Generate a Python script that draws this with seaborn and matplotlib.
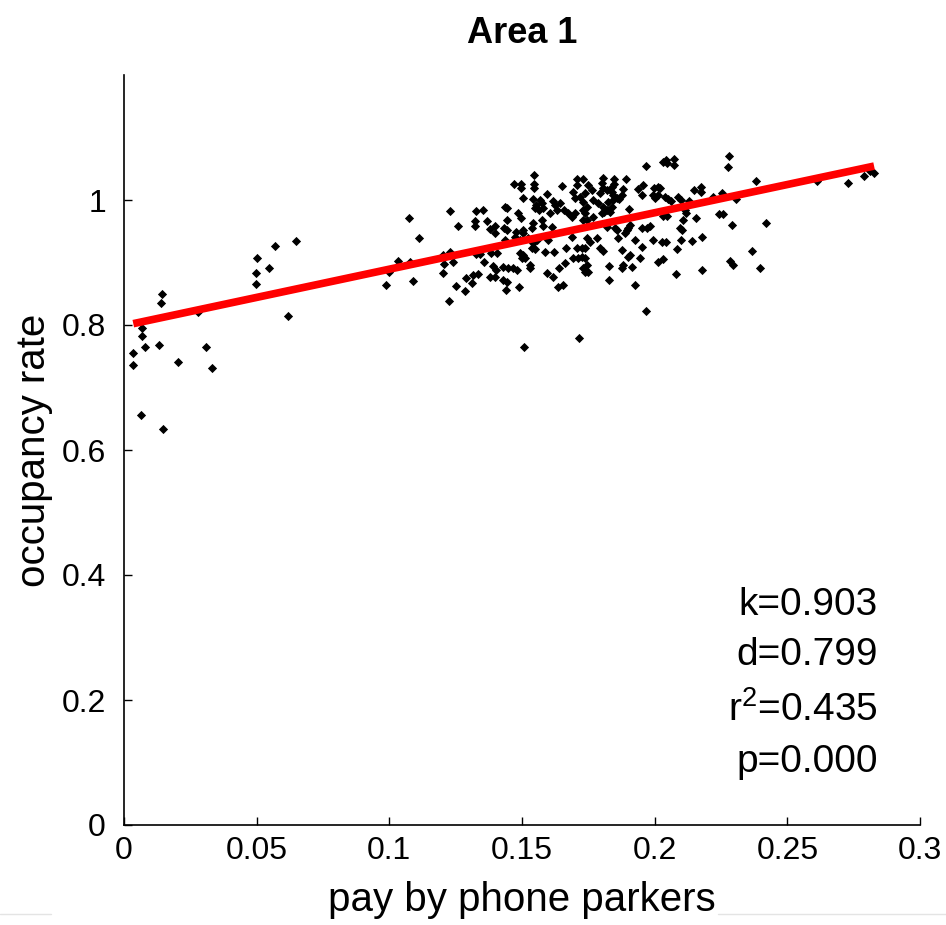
import matplotlib
matplotlib.use("Agg")
import matplotlib.pyplot as plt
from matplotlib.lines import Line2D
import seaborn as sns
import pandas as pd

# ---- data ----
pay_by_phone = [
    0.0035, 0.0035, 0.0068, 0.0068, 0.0078, 0.0063, 0.0132, 0.0138, 0.0143, 0.0148,
    0.0202, 0.0278, 0.0310, 0.0332, 0.0498, 0.0499, 0.0502, 0.0547, 0.0568, 0.0617,
    0.0649,
    0.0986, 0.0999, 0.1032, 0.1074, 0.1078,
    0.1112, 0.1089, 0.1230, 0.1258, 0.1229, 0.1204, 0.1207, 0.1201, 0.1241, 0.1250,
    0.1225, 0.1284, 0.1289, 0.1310, 0.1315, 0.1334, 0.1327, 0.1353, 0.1324, 0.1322,
    0.1369, 0.1378, 0.1397, 0.1398, 0.1326, 0.1343, 0.1358, 0.1384, 0.1390, 0.1406,
    0.1403, 0.1378, 0.1397,
    0.1547, 0.1471, 0.1496, 0.1496, 0.1547, 0.1547, 0.1505, 0.1436, 0.1445, 0.1486,
    0.1495, 0.1445, 0.1433, 0.1442, 0.1477, 0.1505, 0.1543, 0.1568, 0.1553, 0.1549,
    0.1574, 0.1580, 0.1564, 0.1595, 0.1618, 0.1624, 0.1643, 0.1606, 0.1631, 0.1650,
    0.1706, 0.1706, 0.1693, 0.1700, 0.1658, 0.1675, 0.1687, 0.1700, 0.1543, 0.1537,
    0.1574, 0.1580, 0.1614, 0.1474, 0.1492, 0.1505, 0.1524, 0.1543, 0.1555, 0.1537,
    0.1492, 0.1505, 0.1511, 0.1499, 0.1436, 0.1599, 0.1587, 0.1621, 0.1665, 0.1706,
    0.1549, 0.1687, 0.1430, 0.1448, 0.1467, 0.1480, 0.1530, 0.1530, 0.1430, 0.1442,
    0.1440, 0.1490, 0.1593, 0.1618, 0.1637, 0.1656, 0.1640, 0.1662, 0.1691, 0.1712,
    0.1509, 0.1715,
    0.1967, 0.1731, 0.1806, 0.1800, 0.1848, 0.1848, 0.1892, 0.1750, 0.1763, 0.1737,
    0.1804, 0.1819, 0.1794, 0.1838, 0.1838, 0.1844, 0.1882, 0.1876, 0.1867, 0.1938,
    0.1951, 0.1957, 0.1997, 0.2014, 0.1719, 0.1731, 0.1744, 0.1731, 0.1769, 0.1788,
    0.1806, 0.1819, 0.1832, 0.1838, 0.1825, 0.1844, 0.1857, 0.1737, 0.1731, 0.1744,
    0.1769, 0.1800, 0.1809, 0.1904, 0.1995, 0.2001, 0.2014, 0.1819, 0.1851, 0.1857,
    0.1907, 0.1895, 0.1901, 0.1951, 0.1970, 0.1982, 0.1744, 0.1756, 0.1782, 0.1863,
    0.1888, 0.1926, 0.1725, 0.1737, 0.1794, 0.1804, 0.1876, 0.1951, 0.1907, 0.1901,
    0.1945, 0.1995, 0.2014, 0.1725, 0.1737, 0.1744, 0.1731, 0.1750, 0.1737, 0.1829,
    0.1882, 0.1876, 0.1913, 0.1828, 0.1926, 0.1967,
    0.2033, 0.2043, 0.2045, 0.2073, 0.2073, 0.2281, 0.2278, 0.2020, 0.2149, 0.2175,
    0.2175, 0.2039, 0.2051, 0.2060, 0.2089, 0.2098, 0.2131, 0.2253, 0.2221, 0.2307,
    0.2381, 0.2033, 0.2048, 0.2114, 0.2118, 0.2156, 0.2244, 0.2259, 0.2106, 0.2095,
    0.2102, 0.2290, 0.2177, 0.2140, 0.2098, 0.2085, 0.2027, 0.2042, 0.2366, 0.2033,
    0.2284, 0.2294, 0.2180, 0.2079, 0.2397,
    0.2420, 0.2613, 0.2730, 0.2790, 0.2812, 0.2827,
]
occupancy_rate = [
    0.756, 0.736, 0.795, 0.783, 0.765, 0.656, 0.768, 0.836, 0.850, 0.633,
    0.741, 0.821, 0.765, 0.731, 0.866, 0.884, 0.908, 0.892, 0.926, 0.814,
    0.935,
    0.864, 0.885, 0.902, 0.971, 0.901,
    0.939, 0.870, 0.982, 0.959, 0.917, 0.912, 0.898, 0.883, 0.901, 0.863,
    0.838, 0.854, 0.875, 0.868, 0.880, 0.882, 0.982, 0.984, 0.966, 0.958,
    0.966, 0.953, 0.958, 0.948, 0.913, 0.913, 0.901, 0.916, 0.895, 0.916,
    0.888, 0.877, 0.877,
    1.040, 1.025, 1.025, 1.019, 1.025, 1.019, 1.004, 0.989, 0.987, 0.980,
    0.972, 0.968, 0.956, 0.952, 0.949, 0.952, 1.001, 1.000, 0.992, 0.987,
    0.995, 0.987, 0.984, 1.010, 0.998, 0.992, 0.996, 0.980, 0.984, 1.022,
    1.034, 1.024, 1.013, 1.003, 0.984, 0.979, 0.973, 0.979, 0.963, 0.955,
    0.968, 0.958, 0.957, 0.941, 0.936, 0.947, 0.939, 0.931, 0.936, 0.923,
    0.915, 0.912, 0.907, 0.908, 0.936, 0.936, 0.917, 0.917, 0.923, 0.923,
    0.922, 0.941, 0.893, 0.891, 0.891, 0.888, 0.896, 0.891, 0.872, 0.869,
    0.856, 0.861, 0.884, 0.877, 0.861, 0.864, 0.891, 0.899, 0.908, 0.907,
    0.765, 0.779,
    1.054, 1.034, 1.036, 1.028, 1.034, 1.025, 1.034, 1.024, 1.016, 1.011,
    1.019, 1.016, 1.011, 1.021, 1.013, 1.008, 1.017, 1.008, 1.001, 1.017,
    1.008, 1.024, 1.019, 1.021, 1.005, 0.997, 0.989, 0.984, 1.000, 0.995,
    0.989, 0.984, 0.981, 0.989, 0.997, 1.000, 1.003, 0.979, 0.968, 0.968,
    0.973, 0.979, 0.981, 0.985, 1.008, 1.003, 1.008, 0.957, 0.956, 0.952,
    0.960, 0.952, 0.956, 0.955, 0.956, 0.958, 0.939, 0.933, 0.940, 0.940,
    0.947, 0.936, 0.923, 0.923, 0.924, 0.919, 0.920, 0.925, 0.912, 0.909,
    0.908, 0.936, 0.901, 0.909, 0.907, 0.896, 0.891, 0.885, 0.885, 0.894,
    0.896, 0.891, 0.893, 0.872, 0.864, 0.823,
    1.061, 1.064, 1.059, 1.065, 1.056, 1.070, 1.053, 1.019, 1.016, 1.021,
    1.013, 1.005, 1.001, 0.998, 1.005, 1.000, 0.998, 1.011, 1.005, 1.001,
    1.031, 0.974, 0.974, 0.984, 0.979, 0.972, 0.978, 0.978, 0.968, 0.956,
    0.952, 0.960, 0.941, 0.935, 0.936, 0.922, 0.933, 0.933, 0.919, 0.905,
    0.903, 0.896, 0.888, 0.882, 0.891,
    0.964, 1.031, 1.027, 1.038, 1.047, 1.043,
]

# regression results shown on the chart
fit_k = 0.903
fit_d = 0.799
stat_labels = ["k=0.903", "d=0.799", r"r$^{2}$=0.435", "p=0.000"]

x_ticks = [0, 0.05, 0.1, 0.15, 0.2, 0.25, 0.3]
x_tick_labels = ["0", "0.05", "0.1", "0.15", "0.2", "0.25", "0.3"]
y_ticks = [0, 0.2, 0.4, 0.6, 0.8, 1.0]
y_tick_labels = ["0", "0.2", "0.4", "0.6", "0.8", "1"]

title_text = "Area 1"
x_label = "pay by phone parkers"
y_label = "occupancy rate"

# ---- style ----
sns.set_style("white")
plt.rcParams["font.family"] = ["Liberation Sans", "DejaVu Sans"]
plt.rcParams["mathtext.fontset"] = "custom"
plt.rcParams["mathtext.rm"] = "Liberation Sans"
plt.rcParams["mathtext.it"] = "Liberation Sans:italic"
plt.rcParams["mathtext.bf"] = "Liberation Sans:bold"
for key in ["text.color", "axes.labelcolor", "xtick.color", "ytick.color", "axes.edgecolor"]:
    plt.rcParams[key] = "black"

fig = plt.figure(figsize=(9.46, 9.25), dpi=100)
fig.patch.set_facecolor("white")
ax = fig.add_axes([124 / 946, 1 - 825 / 925, (920 - 124) / 946, (825 - 75) / 925])

df = pd.DataFrame({"pay by phone parkers": pay_by_phone, "occupancy rate": occupancy_rate})
sns.scatterplot(data=df, x="pay by phone parkers", y="occupancy rate", ax=ax,
                marker="D", color="black", s=22, linewidth=0, zorder=3)

x_min, x_max = min(pay_by_phone), max(pay_by_phone)
fit_df = pd.DataFrame({"x": [x_min, x_max], "y": [fit_d + fit_k * x_min, fit_d + fit_k * x_max]})
sns.lineplot(data=fit_df, x="x", y="y", ax=ax, color="#ff0000", linewidth=5.5,
             solid_capstyle="butt", zorder=4)

ax.set_xlim(0, 0.3)
ax.set_ylim(0, 1.2)
ax.set_xticks(x_ticks)
ax.set_xticklabels(x_tick_labels)
ax.set_yticks(y_ticks)
ax.set_yticklabels(y_tick_labels)
ax.tick_params(axis="both", direction="in", length=6, width=1.0, colors="black",
               labelcolor="black", labelsize=23)
ax.tick_params(axis="x", pad=8)
ax.tick_params(axis="y", pad=13)
ax.xaxis.set_ticks_position("bottom")
ax.yaxis.set_ticks_position("left")
for side in ["top", "right"]:
    ax.spines[side].set_visible(False)
for side in ["left", "bottom"]:
    ax.spines[side].set_linewidth(1.2)
    ax.spines[side].set_color("black")

ax.set_xlabel(x_label, fontsize=29, labelpad=11, color="black")
ax.set_ylabel(y_label, fontsize=29, labelpad=6, color="black")
ax.set_title(title_text, fontsize=26, fontweight="bold", pad=23, color="black")

stat_y = [0.352, 0.272, 0.184, 0.101]
for lbl, yy in zip(stat_labels, stat_y):
    ax.text(0.2842, yy, lbl, ha="right", va="center", fontsize=28, color="black")

# faint rule near bottom edge of the original image
fig.add_artist(Line2D([0, 51 / 946], [1 - 914 / 925] * 2, color="#e4e4e4", lw=1))
fig.add_artist(Line2D([718 / 946, 1], [1 - 914 / 925] * 2, color="#e4e4e4", lw=1))

fig.savefig("out.png", dpi=100, facecolor="white")
